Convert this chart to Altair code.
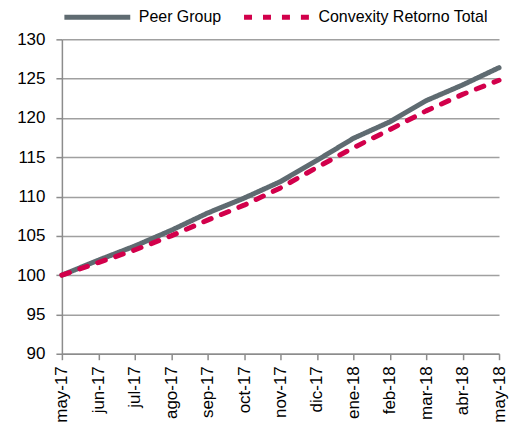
import altair as alt
import pandas as pd

months = ["may-17", "jun-17", "jul-17", "ago-17", "sep-17", "oct-17", "nov-17",
          "dic-17", "ene-18", "feb-18", "mar-18", "abr-18", "may-18"]
peer_group = [100.0, 101.9, 103.7, 105.7, 107.9, 109.8, 111.9, 114.6, 117.4, 119.5, 122.2, 124.2, 126.4]
convexity = [100.0, 101.6, 103.2, 105.0, 107.0, 108.9, 111.1, 113.7, 116.2, 118.5, 120.9, 123.0, 124.8]
series_names = ["Peer Group", "Convexity Retorno Total"]

rows = []
for i, m in enumerate(months):
    rows.append({"mes": m, "serie": series_names[0], "valor": peer_group[i], "orden": i})
    rows.append({"mes": m, "serie": series_names[1], "valor": convexity[i], "orden": i})
df = pd.DataFrame(rows)

FONT = "Liberation Sans"

legend_cfg = dict(orient="top", offset=12, direction="horizontal",
                  symbolType="stroke", symbolSize=4356, symbolStrokeWidth=5,
                  labelFontSize=16, labelFont=FONT, labelColor="#000000", labelLimit=0,
                  labelOffset=6, columnPadding=12, padding=0)

chart = alt.Chart(df).mark_line(strokeWidth=5, strokeCap="round", strokeJoin="round").encode(
    x=alt.X("mes:O", sort=months, title=None,
            scale=alt.Scale(type="point", padding=0),
            axis=alt.Axis(labelAngle=-90, labelFontSize=17, labelFont=FONT, labelColor="#000000",
                          domainColor="#8c8c8c", tickColor="#8c8c8c", tickSize=6, labelPadding=6,
                          grid=False, domainWidth=1.5, tickWidth=1.5)),
    y=alt.Y("valor:Q", title=None,
            scale=alt.Scale(domain=[90, 130], nice=False, zero=False),
            axis=alt.Axis(values=list(range(90, 131, 5)), labelFontSize=17, labelFont=FONT,
                          labelColor="#000000", domainColor="#8c8c8c", tickColor="#8c8c8c",
                          tickSize=6, labelPadding=11, gridColor="#a0a0a0", gridWidth=1.5,
                          domainWidth=1.5, tickWidth=1.5)),
    color=alt.Color("serie:N", sort=series_names, title=None,
                    scale=alt.Scale(domain=series_names, range=["#5f6b71", "#d2004b"]),
                    legend=alt.Legend(**legend_cfg)),
    strokeDash=alt.StrokeDash("serie:N", sort=series_names, title=None,
                              scale=alt.Scale(domain=series_names, range=[[1, 0], [8, 11]]),
                              legend=alt.Legend(**legend_cfg)),
    order="orden:Q",
).properties(
    width=438, height=315,
    autosize=alt.AutoSizeParams(type="none"),
    padding={"left": 54, "top": 31, "right": 12, "bottom": 70},
    background="white",
).configure_view(stroke=None)

chart.save("out.html", embed_options={"renderer": "svg", "actions": False})
